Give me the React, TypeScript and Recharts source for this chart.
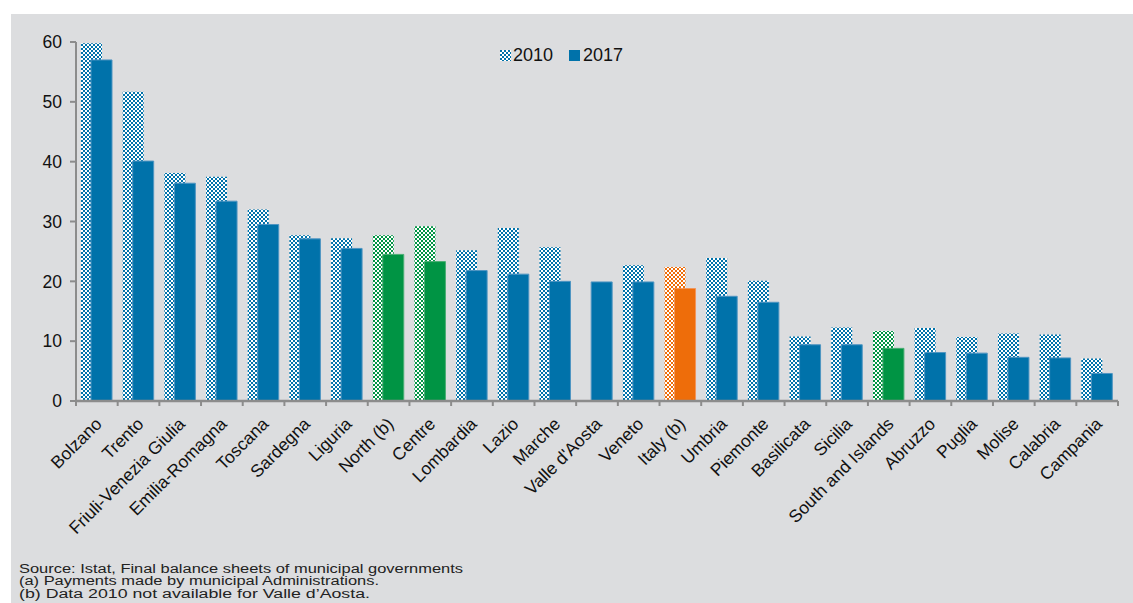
import { BarChart, Bar, XAxis, YAxis, Cell } from "recharts";

const regions = [
  "Bolzano", "Trento", "Friuli-Venezia Giulia", "Emilia-Romagna", "Toscana",
  "Sardegna", "Liguria", "North (b)", "Centre", "Lombardia", "Lazio", "Marche",
  "Valle d'Aosta", "Veneto", "Italy (b)", "Umbria", "Piemonte", "Basilicata",
  "Sicilia", "South and Islands", "Abruzzo", "Puglia", "Molise", "Calabria", "Campania",
];

const values2010 = [
  59.8, 51.7, 38.1, 37.5, 32.0, 27.7, 27.2, 27.7, 29.2, 25.2, 28.9, 25.7,
  null, 22.7, 22.4, 23.9, 20.1, 10.8, 12.3, 11.7, 12.2, 10.7, 11.3, 11.1, 7.1,
];

const values2017 = [
  57.0, 40.1, 36.4, 33.4, 29.5, 27.1, 25.5, 24.5, 23.3, 21.8, 21.2, 20.0,
  19.9, 19.9, 18.8, 17.5, 16.5, 9.4, 9.4, 8.8, 8.1, 8.0, 7.3, 7.2, 4.6,
];

const areas = ["North (b)", "Centre", "South and Islands"];
const national = ["Italy (b)"];

const yTicks = [0, 10, 20, 30, 40, 50, 60];

const notes = [
  "Source: Istat, Final balance sheets of municipal governments",
  "(a) Payments made by municipal Administrations.",
  "(b) Data 2010 not available for Valle d\u2019Aosta.",
];

const BLUE = "#0072aa";
const GREEN = "#009444";
const ORANGE = "#ee6d0a";
const AXIS = "#8c8c8c";
const BG = "#dcdddf";
const FONT = "'Liberation Sans', Arial, sans-serif";

const data = regions.map((name, i) => ({
  name,
  y2010: values2010[i],
  y2017: values2017[i],
}));

function kindOf(name: string) {
  if (national.includes(name)) return "orange";
  if (areas.includes(name)) return "green";
  return "blue";
}

const solid: Record<string, string> = { blue: BLUE, green: GREEN, orange: ORANGE };
const edge: Record<string, string> = { blue: "#4f95c2", green: "#4aae74", orange: "#f2955a" };

function Checker({ id, color }: { id: string; color: string }) {
  return (
    <pattern id={id} width={4} height={4} patternUnits="userSpaceOnUse">
      <rect width={4} height={4} fill="#ffffff" />
      <rect x={0} y={0} width={2} height={2} fill={color} />
      <rect x={2} y={2} width={2} height={2} fill={color} />
    </pattern>
  );
}

const CategoryTick = (props: any) => {
  const { x, y, payload, index, visibleTicksCount } = props;
  const half = payload && payload.offset ? payload.offset : 20.8;
  const i = index ?? payload.index;
  const last = (visibleTicksCount ?? regions.length) - 1;
  const tx = x + 6;
  const ty = y + 24;
  return (
    <g>
      <line x1={x - half} x2={x - half} y1={y} y2={y + 5} stroke={AXIS} strokeWidth={2} />
      {i === last && (
        <line x1={x + half} x2={x + half} y1={y} y2={y + 5} stroke={AXIS} strokeWidth={2} />
      )}
      <text
        x={tx}
        y={ty}
        transform={`rotate(-45 ${tx} ${ty})`}
        textAnchor="end"
        fontSize={17.5}
        fill="#111"
      >
        {payload.value}
      </text>
    </g>
  );
};

function LegendBox() {
  return (
    <div
      style={{
        position: "absolute",
        left: 489,
        top: 31,
        display: "flex",
        alignItems: "center",
        fontSize: 18,
        lineHeight: "21px",
        color: "#111",
      }}
    >
      <svg width={11} height={11} style={{ marginRight: 2 }}>
        <rect width={11} height={11} fill="url(#chk-blue)" />
      </svg>
      <span style={{ marginRight: 16 }}>2010</span>
      <svg width={11} height={11} style={{ marginRight: 3 }}>
        <rect width={11} height={11} fill={BLUE} />
      </svg>
      <span>2017</span>
    </div>
  );
}

export default function App() {
  return (
    <div
      style={{
        position: "absolute",
        left: 0,
        top: 0,
        width: 1133,
        height: 603,
        background: "#fff",
        overflow: "hidden",
        fontFamily: FONT,
      }}
    >
      <div
        style={{
          position: "absolute",
          left: 11,
          top: 14,
          width: 1122,
          height: 589,
          background: BG,
        }}
      >
        <BarChart
          width={1122}
          height={540}
          data={data}
          margin={{ top: 28, right: 15, left: 0, bottom: 0 }}
          barGap={-11}
          style={{ fontFamily: FONT }}
        >
          <defs>
            <Checker id="chk-blue" color={BLUE} />
            <Checker id="chk-green" color={GREEN} />
            <Checker id="chk-orange" color={ORANGE} />
          </defs>
          <XAxis
            dataKey="name"
            interval={0}
            height={153}
            tickLine={false}
            tickSize={0}
            tickMargin={0}
            axisLine={{ stroke: AXIS, strokeWidth: 2.5 }}
            tick={<CategoryTick />}
          />
          <YAxis
            width={65}
            domain={[0, 60]}
            ticks={yTicks}
            interval={0}
            tickSize={6}
            tickMargin={8}
            axisLine={{ stroke: AXIS, strokeWidth: 2 }}
            tickLine={{ stroke: AXIS, strokeWidth: 2 }}
            tick={{ fontSize: 17.5, fill: "#111" }}
          />
          <Bar dataKey="y2010" name="2010" barSize={21} fill="url(#chk-blue)" isAnimationActive={false}>
            {data.map((d, i) => (
              <Cell key={i} fill={`url(#chk-${kindOf(d.name)})`} />
            ))}
          </Bar>
          <Bar dataKey="y2017" name="2017" barSize={21} fill={BLUE} isAnimationActive={false}>
            {data.map((d, i) => (
              <Cell
                key={i}
                fill={solid[kindOf(d.name)]}
                stroke={edge[kindOf(d.name)]}
                strokeWidth={1}
              />
            ))}
          </Bar>
        </BarChart>
        <LegendBox />
      </div>
      <svg
        width={1133}
        height={60}
        style={{ position: "absolute", left: 0, top: 545 }}
      >
        {notes.map((line, i) => (
          <text
            key={i}
            x={19}
            y={27.5 + i * 12.5}
            fontSize={12}
            fill="#222"
            fontFamily="'Liberation Sans Narrow', 'Liberation Sans', Arial, sans-serif"
            textLength={[444, 360, 351][i]}
            lengthAdjust="spacingAndGlyphs"
          >
            {line}
          </text>
        ))}
      </svg>
    </div>
  );
}
